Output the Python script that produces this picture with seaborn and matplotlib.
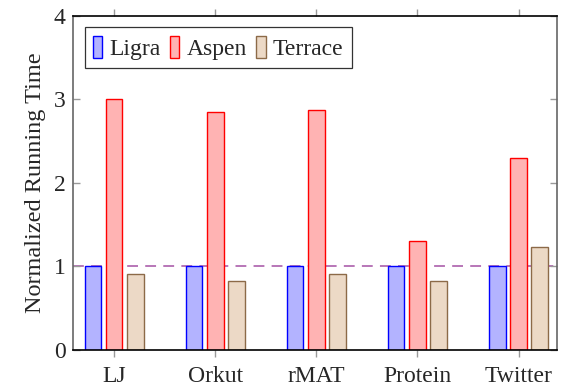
import matplotlib
matplotlib.use("Agg")
import matplotlib.pyplot as plt
from matplotlib.patches import Patch
import seaborn as sns
import pandas as pd

# Data
graphs = ["LJ", "Orkut", "rMAT", "Protein", "Twitter"]
systems = ["Ligra", "Aspen", "Terrace"]
ligra = [1.0, 1.0, 1.0, 1.0, 1.0]
aspen = [3.0, 2.85, 2.87, 1.30, 2.29]
terrace = [0.91, 0.82, 0.91, 0.82, 1.23]
y_ticks = [0, 1, 2, 3, 4]

fills = {"Ligra": "#b3b3ff", "Aspen": "#ffb3b3", "Terrace": "#ecd9c6"}
edges = {"Ligra": "#0000ff", "Aspen": "#ff0000", "Terrace": "#8c6a48"}

df = pd.DataFrame({
    "graph": graphs * 3,
    "system": ["Ligra"] * 5 + ["Aspen"] * 5 + ["Terrace"] * 5,
    "time": ligra + aspen + terrace,
})

sns.set_theme(style="white")
plt.rcParams["font.family"] = ["Liberation Serif", "DejaVu Serif"]

fig = plt.figure(figsize=(5.62, 3.9), dpi=100)
ax = fig.add_axes([0.1294, 0.1038, 0.8616, 0.8564])

sns.barplot(data=df, x="graph", y="time", hue="system", order=graphs,
            hue_order=systems, palette=fills, saturation=1, width=0.63,
            gap=0.22, linewidth=1.0, ax=ax, legend=False)

# color bar edges per series
for container, name in zip(ax.containers, systems):
    for patch in container:
        patch.set_edgecolor(edges[name])
        patch.set_linewidth(1.0)

ax.axhline(1.0, color="#b26bb2", linestyle=(0, (6, 4)), linewidth=1.3, zorder=0.5)

ax.set_ylim(0, 4)
ax.set_xlim(-0.41, 4.38)
ax.set_yticks(y_ticks)
ax.set_xlabel("")
ax.set_ylabel("Normalized Running Time", fontsize=17.5, labelpad=6)

ax.tick_params(axis="y", which="both", direction="in", left=True, right=True,
               length=5, width=1, color="#999999", labelsize=17, pad=5)
ax.tick_params(axis="x", which="both", direction="out", bottom=True, top=True,
               length=5, width=1, color="#999999", labelsize=17, pad=7)

for side in ["left", "right"]:
    ax.spines[side].set_color("#666666")
    ax.spines[side].set_linewidth(1.2)
for side in ["top", "bottom"]:
    ax.spines[side].set_color("black")
    ax.spines[side].set_linewidth(1.2)

# legend
handles = [Patch(facecolor=fills[s], edgecolor=edges[s], linewidth=1.0) for s in systems]
leg = ax.legend(handles, systems, loc="upper left", ncol=3, fontsize=17,
                frameon=True, fancybox=False, edgecolor="black",
                handlelength=0.4, handleheight=1.1, handletextpad=0.3,
                columnspacing=0.4, borderpad=0.35, borderaxespad=0.5)
leg.get_frame().set_linewidth(0.9)

fig.savefig("out.png", dpi=100)
